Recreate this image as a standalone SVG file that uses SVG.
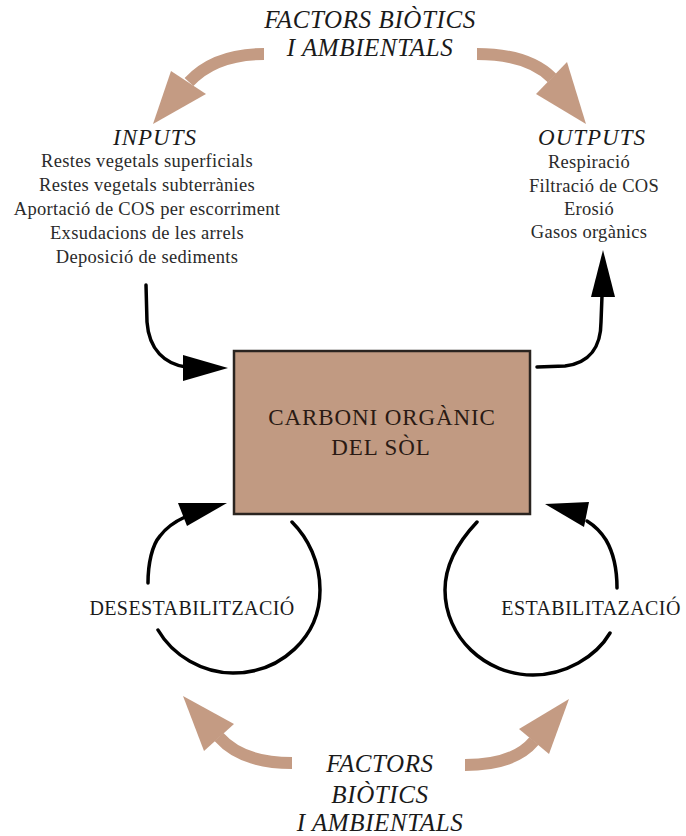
<svg xmlns="http://www.w3.org/2000/svg" width="686" height="836" viewBox="0 0 686 836">
  <style>
    .title { font-family: "Liberation Serif", "DejaVu Serif", serif; font-style: italic; font-size: 25px; letter-spacing: 0.6px; fill: #1a1a1a; text-anchor: middle; }
    .head { font-family: "Liberation Serif", "DejaVu Serif", serif; font-style: italic; font-size: 23px; letter-spacing: 1px; fill: #1a1a1a; text-anchor: middle; }
    .item { font-family: "Liberation Serif", "DejaVu Serif", serif; font-size: 18.5px; letter-spacing: 0.3px; fill: #2a2a2a; text-anchor: middle; }
    .caps { font-family: "Liberation Serif", "DejaVu Serif", serif; font-size: 20px; letter-spacing: 0.4px; fill: #1a1a1a; text-anchor: middle; }
    .box { fill: #c19a82; stroke: #2a2420; stroke-width: 2.5; }
    .boxtxt { font-family: "Liberation Serif", "DejaVu Serif", serif; font-size: 23px; letter-spacing: 0.9px; fill: #2a1a14; text-anchor: middle; }
    .flow { fill: none; stroke: #000; stroke-width: 3.5; stroke-linecap: round; }
    .head-black { fill: #000; }
    .factor { fill: none; stroke: #c49b83; stroke-width: 12; }
    .factor-head { fill: #c49b83; }
  </style>

  <!-- top factors label -->
  <g id="factors-top">
    <text class="title" x="370" y="28">FACTORS BIÒTICS</text>
    <text class="title" x="370" y="56">I AMBIENTALS</text>
  </g>

  <!-- inputs list -->
  <g id="inputs">
    <text class="head" x="155" y="145">INPUTS</text>
    <text class="item" x="147" y="167">Restes vegetals superficials</text>
    <text class="item" x="147" y="191">Restes vegetals subterrànies</text>
    <text class="item" x="147" y="215">Aportació de COS per escorriment</text>
    <text class="item" x="147" y="239">Exsudacions de les arrels</text>
    <text class="item" x="147" y="263">Deposició de sediments</text>
  </g>

  <!-- outputs list -->
  <g id="outputs">
    <text class="head" x="592" y="145">OUTPUTS</text>
    <text class="item" x="589" y="168">Respiració</text>
    <text class="item" x="594" y="192">Filtració de COS</text>
    <text class="item" x="589" y="215">Erosió</text>
    <text class="item" x="589" y="238">Gasos orgànics</text>
  </g>

  <!-- central pool -->
  <g id="soil-carbon">
    <rect class="box" x="234" y="351" width="296" height="163"/>
    <text class="boxtxt" x="382" y="425">CARBONI ORGÀNIC</text>
    <text class="boxtxt" x="381" y="455">DEL SÒL</text>
  </g>

  <g id="destabilisation">
    <text class="caps" x="192" y="615">DESESTABILITZACIÓ</text>
  </g>

  <g id="stabilisation">
    <text class="caps" x="591" y="615">ESTABILITAZACIÓ</text>
  </g>

  <!-- bottom factors label -->
  <g id="factors-bottom">
    <text class="title" x="380" y="772">FACTORS</text>
    <text class="title" x="380" y="803">BIÒTICS</text>
    <text class="title" x="380" y="831">I AMBIENTALS</text>
  </g>

  <g id="connectors">
    <!-- input flow -->
    <path class="flow" d="M146,285 L147,322 C149,350 165,364 186,367"/>
    <polygon class="head-black" points="183,355 183,381 228,368"/>

    <!-- output flow -->
    <path class="flow" d="M537,367 L565,366 C590,363 601,346 601,322 L602,296"/>
    <polygon class="head-black" points="591,297 615,297 603,250"/>

    <!-- destabilisation loop -->
    <path class="flow" d="M292,522 C308,538 320,562 320,590 C320,637 281,673 233,673 C203,673 173,656 158,630"/>
    <path class="flow" d="M148,583 C148,564 152,545 160,536 C166,528 174,522 185,517"/>
    <polygon class="head-black" points="178,503 187,526 227,503"/>

    <!-- stabilisation loop -->
    <path class="flow" d="M477,522 C460,540 445,562 445,590 C445,637 485,675 533,675 C565,675 596,657 610,633"/>
    <path class="flow" d="M617,588 C617,568 613,552 606,540 C601,532 595,526 587,521"/>
    <polygon class="head-black" points="545,504 589,502 584,527"/>

    <!-- factor arrows, top -->
    <path class="factor" d="M264,54 Q215,54 189,82"/>
    <polygon class="factor-head" points="171,71 206,94 153,124"/>
    <path class="factor" d="M477,54 Q528,54 552,78"/>
    <polygon class="factor-head" points="567,62 536,94 586,124"/>

    <!-- factor arrows, bottom -->
    <path class="factor" d="M292,763 Q242,763 219,737"/>
    <polygon class="factor-head" points="204,751 234,724 183,696"/>
    <path class="factor" d="M465,765 Q514,765 534,741"/>
    <polygon class="factor-head" points="519,729 549,754 569,699"/>
  </g>
</svg>
